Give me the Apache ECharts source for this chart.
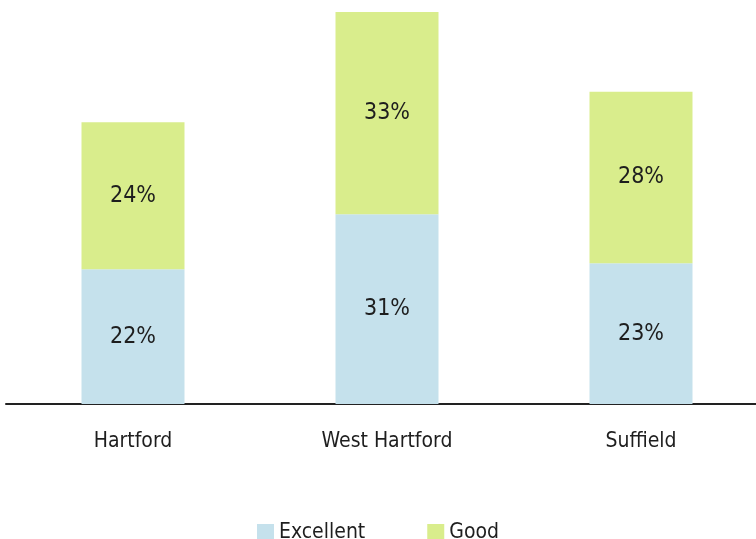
<!DOCTYPE html>
<html>
<head>
<meta charset="utf-8">
<script src="https://cdn.jsdelivr.net/npm/echarts@6/dist/echarts.min.js"></script>
<style>
  html, body { margin: 0; padding: 0; background: #fff; }
  #container { width: 756px; height: 539px; }
</style>
</head>
<body>
<div id="container"></div>
<script>
const categories = ["Hartford", "West Hartford", "Suffield"];
const excellent = [22, 31, 23];
const good = [24, 33, 28];

const font = "'DejaVu Sans Condensed', sans-serif";

const labelStyle = {
  show: true,
  position: "inside",
  formatter: "{c}%",
  fontFamily: font,
  fontSize: 23,
  color: "#1e1e1e",
};

const option = {
  animation: false,
  grid: { left: 6, top: 12, width: 762, bottom: 135, outerBoundsMode: "none" },
  legend: {
    top: 517,
    left: "center",
    itemWidth: 17,
    itemHeight: 17,
    itemGap: 62,
    itemStyle: { borderWidth: 0 },
    icon: "rect",
    textStyle: { fontFamily: font, fontSize: 21, color: "#1e1e1e" },
    data: ["Excellent", "Good"],
  },
  xAxis: {
    type: "category",
    data: categories,
    axisLine: { lineStyle: { color: "#222", width: 2 } },
    axisTick: { show: false },
    axisLabel: { fontFamily: font, fontSize: 21, color: "#1e1e1e", margin: 27 },
  },
  yAxis: {
    type: "value",
    min: 0,
    max: 64,
    show: false,
    splitLine: { show: false },
  },
  series: [
    {
      name: "Excellent",
      type: "bar",
      stack: "total",
      barWidth: 103,
      data: excellent,
      itemStyle: { color: "#c5e1ec" },
      label: labelStyle,
    },
    {
      name: "Good",
      type: "bar",
      stack: "total",
      barWidth: 103,
      data: good,
      itemStyle: { color: "#d9ed8c" },
      label: labelStyle,
    },
  ],
};

const chart = echarts.init(document.getElementById("container"));
chart.setOption(option);
</script>
</body>
</html>
